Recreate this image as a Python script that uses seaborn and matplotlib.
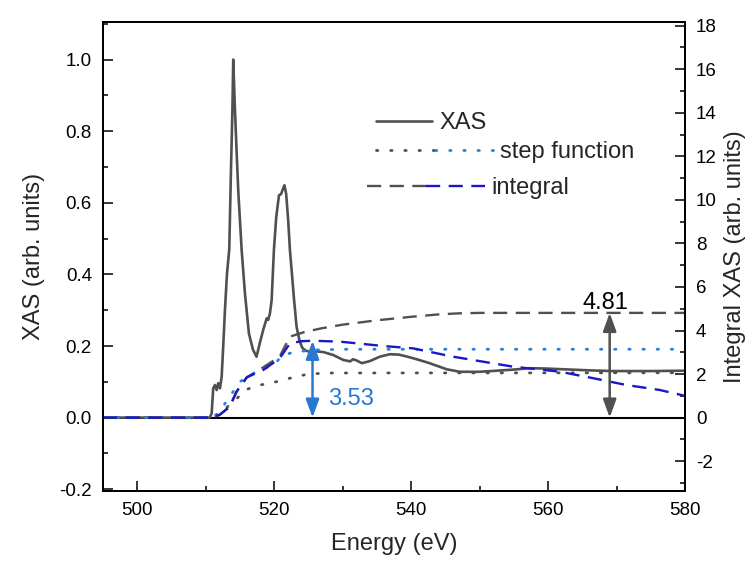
import matplotlib
matplotlib.use("Agg")
import matplotlib.pyplot as plt
import seaborn as sns
from matplotlib.lines import Line2D
from matplotlib.legend_handler import HandlerTuple
from matplotlib.ticker import MultipleLocator

# ---- XAS spectrum (left axis) ----
xas_energy = [495, 505, 510.6, 510.87, 511.1, 511.35, 511.6, 511.83, 512.08, 512.33,
              512.56, 512.81, 513.1, 513.44, 513.7, 513.9, 514.02, 514.25, 514.5, 514.75,
              515.25, 515.73, 516.31, 516.9, 517.42, 517.9, 518.4, 518.9, 519.13, 519.38,
              519.63, 519.96, 520.3, 520.7, 521.0, 521.25, 521.5, 521.75, 522.05, 522.3,
              522.6, 522.9, 523.27, 523.7, 524.1, 524.6, 525.2, 526.2, 527.2, 528.6,
              530.1, 531.1, 531.5, 532.0, 532.8, 534.0, 535.4, 536.9, 538.2, 539.5,
              541.0, 542.7, 545.2, 547.1, 550.0, 552.5, 554.9, 557.3, 559.8, 562.2,
              566.0, 569.5, 575.0, 580.0]
xas_signal = [0, 0, 0, 0.012, 0.082, 0.091, 0.077, 0.096, 0.082, 0.114,
              0.20, 0.30, 0.40, 0.47, 0.70, 0.86, 1.0, 0.87, 0.75, 0.635,
              0.468, 0.347, 0.235, 0.19, 0.170, 0.208, 0.245, 0.277, 0.273, 0.291,
              0.328, 0.468, 0.56, 0.621, 0.624, 0.637, 0.649, 0.625, 0.55, 0.468,
              0.40, 0.33, 0.254, 0.215, 0.195, 0.187, 0.184, 0.185, 0.183, 0.175,
              0.161, 0.157, 0.163, 0.160, 0.152, 0.158, 0.170, 0.177, 0.176, 0.170,
              0.162, 0.152, 0.135, 0.128, 0.128, 0.131, 0.134, 0.138, 0.137, 0.135,
              0.132, 0.130, 0.130, 0.131]

# ---- step functions (right axis) ----
step_gray_energy = [495, 511.2, 513.0, 514.6, 515.7, 518.0, 520.5, 522.3, 524.5, 527.2, 580]
step_gray_value = [0, 0, 0.45, 0.89, 1.27, 1.50, 1.66, 1.81, 1.97, 2.05, 2.06]
step_blue_energy = [495, 510.8, 511.85, 513.5, 515.0, 517.4, 519.9, 521.3, 523.3, 526.2, 530, 580]
step_blue_value = [0, 0, 0.20, 0.96, 1.65, 2.11, 2.42, 2.88, 3.03, 3.11, 3.14, 3.14]

# ---- integrated XAS (right axis) ----
integ_gray_energy = [495, 510.6, 512.0, 513.5, 514.5, 516.0, 518.2, 520.8, 522.3, 524.5,
                     526.9, 530, 535, 540, 544, 547, 550, 580]
integ_gray_value = [0, 0, 0.12, 0.50, 1.19, 1.85, 2.27, 2.80, 3.72, 3.94,
                    4.10, 4.27, 4.47, 4.63, 4.74, 4.79, 4.81, 4.81]
integ_blue_energy = [495, 510.6, 512.0, 513.5, 514.5, 516.0, 518.4, 520.8, 522.3, 524.0,
                     525.7, 529.6, 535.9, 540.3, 546.1, 554.9, 561.7, 566.6, 571.4, 576.3, 580]
integ_blue_value = [0, 0, 0.12, 0.50, 1.19, 1.85, 2.19, 2.72, 3.41, 3.51,
                    3.53, 3.49, 3.29, 3.18, 2.80, 2.34, 2.11, 1.81, 1.50, 1.27, 1.00]

# ---- annotated integral values ----
total_energy, total_value = 569.0, 4.81
peak_energy, peak_value = 525.6, 3.53

GRAY = "#505050"
BLUE_DASH = "#1818c8"
BLUE_DOT = "#2a7fd6"
BLUE_TXT = "#2878d2"

sns.set_theme(style="ticks")
plt.rcParams["font.family"] = ["Liberation Sans", "DejaVu Sans"]
plt.rcParams["axes.linewidth"] = 1.4
plt.rcParams["axes.unicode_minus"] = False

W, H = 751, 561
fig = plt.figure(figsize=(W / 100, H / 100), dpi=100)
ax = fig.add_axes([103 / W, 1 - 491 / H, (685 - 103) / W, (491 - 22) / H])
ax2 = ax.twinx()

dash = (0, (6, 3.6))
dot = (0, (0.5, 4.6))

sns.lineplot(x=xas_energy, y=xas_signal, ax=ax, color=GRAY, lw=1.9,
             sort=False, estimator=None, legend=False)
ax.axhline(0, color="black", lw=1.5, zorder=1)

sns.lineplot(x=step_gray_energy, y=step_gray_value, ax=ax2, color=GRAY, lw=2.0,
             linestyle=dot, dash_capstyle="round", sort=False, estimator=None, legend=False)
sns.lineplot(x=integ_gray_energy, y=integ_gray_value, ax=ax2, color=GRAY, lw=1.7,
             linestyle=dash, sort=False, estimator=None, legend=False)
sns.lineplot(x=step_blue_energy, y=step_blue_value, ax=ax2, color=BLUE_DOT, lw=2.0,
             linestyle=dot, dash_capstyle="round", sort=False, estimator=None, legend=False)
sns.lineplot(x=integ_blue_energy, y=integ_blue_value, ax=ax2, color=BLUE_DASH, lw=1.7,
             linestyle=dash, sort=False, estimator=None, legend=False)

# double-headed arrows marking the integral values
arrow_kw = dict(arrowstyle="<|-|>,head_length=0.55,head_width=0.2",
                mutation_scale=20, shrinkA=0, shrinkB=0, lw=1.8)
ax2.annotate("", xy=(total_energy, total_value), xytext=(total_energy, 0),
             arrowprops=dict(color=GRAY, **arrow_kw))
ax2.text(total_energy - 0.6, total_value + 0.2, f"{total_value:.2f}", fontsize=17,
         ha="center", va="baseline", color="black")
ax2.annotate("", xy=(peak_energy, peak_value), xytext=(peak_energy, 0),
             arrowprops=dict(color=BLUE_TXT, **arrow_kw))
ax2.text(peak_energy + 2.2, 0.86, f"{peak_value:.2f}", fontsize=17,
         ha="left", va="center", color=BLUE_TXT)

# axes limits and ticks
ax.set_xlim(495, 580)
ax.set_ylim(-0.205, 1.105)
ax2.set_ylim(-3.37, 18.17)
ax.xaxis.set_major_locator(MultipleLocator(20))
ax.xaxis.set_minor_locator(MultipleLocator(10))
ax.yaxis.set_major_locator(MultipleLocator(0.2))
ax.yaxis.set_minor_locator(MultipleLocator(0.1))
ax2.yaxis.set_major_locator(MultipleLocator(2))
ax2.yaxis.set_minor_locator(MultipleLocator(1))
ax.yaxis.set_major_formatter(plt.FuncFormatter(lambda v, p: f"{v:.1f}"))

for a in (ax, ax2):
    a.tick_params(which="both", direction="in", labelsize=13.5, width=1.1, colors="black")
    a.tick_params(which="major", length=7, pad=8)
    a.tick_params(which="minor", length=3.5)
    for s in a.spines.values():
        s.set_linewidth(1.4)
        s.set_color("black")
ax.tick_params(which="both", top=False, right=False)
ax2.tick_params(which="both", top=False, left=False)

ax.set_xlabel("Energy (eV)", fontsize=17, labelpad=10)
ax.set_ylabel("XAS (arb. units)", fontsize=17, labelpad=10)
ax2.set_ylabel("Integral XAS (arb. units)", fontsize=17, labelpad=5)

# legend: three single-entry legends with handle lengths of their own
tuple_map = {tuple: HandlerTuple(ndivide=None, pad=0)}
entries = [
    (Line2D([], [], color=GRAY, lw=1.9), "XAS", 376, 123, 2.36, 0.31),
    ((Line2D([], [], color=GRAY, lw=2.0, linestyle=dot, dash_capstyle="round"),
      Line2D([], [], color=BLUE_DOT, lw=2.0, linestyle=dot, dash_capstyle="round")),
     "step function", 376, 152, 4.98, 0.28),
    ((Line2D([], [], color=GRAY, lw=1.7, linestyle=dash),
      Line2D([], [], color=BLUE_DASH, lw=1.7, linestyle=dash)),
     "integral", 367, 188, 5.0, 0.25),
]
for handle, label, xp, yp, hl, tp in entries:
    fig.legend([handle], [label], loc="center left",
               bbox_to_anchor=(xp / W, 1 - yp / H), bbox_transform=fig.transFigure,
               frameon=False, fontsize=17, handlelength=hl, handletextpad=tp,
               borderpad=0, borderaxespad=0, handler_map=tuple_map)

fig.savefig("out.png", dpi=100, facecolor="white")
